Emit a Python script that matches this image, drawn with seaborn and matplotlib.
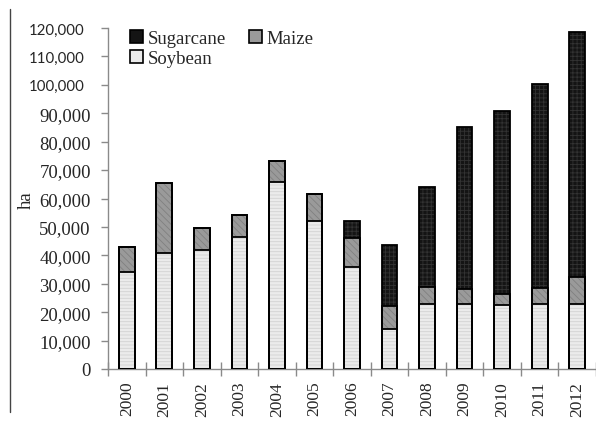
import numpy as np
import pandas as pd
import seaborn as sns
import matplotlib.pyplot as plt
from matplotlib.patches import Patch, Rectangle
from matplotlib.lines import Line2D
from matplotlib.ticker import FuncFormatter
from matplotlib.font_manager import FontProperties
from matplotlib.transforms import ScaledTranslation

# ─────────────────────────────────────────
# 1. DATA (ha)
# ─────────────────────────────────────────
years     = ["2000", "2001", "2002", "2003", "2004", "2005", "2006",
             "2007", "2008", "2009", "2010", "2011", "2012"]
soybean   = [34000, 40800, 42000, 46500, 65900, 52000, 36000,
             14000, 22900, 22900, 22500, 22900, 22900]
maize     = [9000, 24700, 7500, 7800, 7400, 9600, 10000,
             8300, 5900, 5100, 3800, 5700, 9500]
sugarcane = [0, 0, 0, 0, 0, 0, 6000,
             21300, 35300, 57000, 64600, 71700, 86100]
yticks    = list(range(0, 120001, 10000))

df = pd.DataFrame({"year": years, "Soybean": soybean,
                   "Maize": maize, "Sugarcane": sugarcane})
df["lvl_soy"]   = df["Soybean"]
df["lvl_maize"] = df["Soybean"] + df["Maize"]
df["lvl_sugar"] = df["lvl_maize"] + df["Sugarcane"]

# ─────────────────────────────────────────
# 2. STYLE
# ─────────────────────────────────────────
sns.set_style("white")
plt.rcParams["font.family"] = ["Liberation Serif", "DejaVu Serif"]
plt.rcParams["hatch.linewidth"] = 0.6

styles = {
    "Sugarcane": dict(fc="#141414", hc="#333333", hatch="++++"),
    "Maize":     dict(fc="#9a9a9a", hc="#808080", hatch="\\\\\\\\\\"),
    "Soybean":   dict(fc="#ebebeb", hc="#d2d2d2", hatch="-----"),
}

fig = plt.figure(figsize=(5.96, 4.27), dpi=100)
ax = fig.add_axes([108/596, 1 - 370/427, 1 - 108/596, (370 - 29)/427])

# ─────────────────────────────────────────
# 3. STACKED BARS (back to front)
# ─────────────────────────────────────────
BAR_W = 0.42
for name, col in [("Sugarcane", "lvl_sugar"), ("Maize", "lvl_maize"), ("Soybean", "lvl_soy")]:
    st = styles[name]
    n_before = len(ax.patches)
    sns.barplot(data=df, x="year", y=col, order=years, color=st["fc"],
                width=BAR_W, saturation=1, ax=ax, linewidth=0, edgecolor=st["hc"])
    for p in ax.patches[n_before:]:
        p.set_hatch(st["hatch"])

# black outlines on top of everything
for p in list(ax.patches):
    ax.add_patch(Rectangle(p.get_xy(), p.get_width(), p.get_height(),
                           fill=False, ec="black", lw=1.3, zorder=3))

# ─────────────────────────────────────────
# 4. AXES
# ─────────────────────────────────────────
ax.set_xlim(-0.5, 12.26)
ax.set_ylim(0, 120000)
ax.set_yticks(yticks)
ax.yaxis.set_major_formatter(FuncFormatter(lambda v, _: f"{int(v):,}"))
ax.set_xlabel("")
ax.set_ylabel("ha", fontsize=13.5)
ax.yaxis.set_label_coords(35/596, 1 - 200/427, transform=fig.transFigure)
ax.set_xticks(np.arange(-0.5, 13, 1), minor=True)
ax.tick_params(axis="x", which="major", length=0, labelsize=12.5,
               labelrotation=90, pad=8.5)
ax.tick_params(axis="x", which="minor", bottom=True, direction="inout",
               length=10, color="#8a8a8a", width=1)
ax.tick_params(axis="y", which="major", left=True, direction="out", length=5,
               color="#8a8a8a", width=1, labelsize=13.5, pad=7.4)
for s in ["top", "right"]:
    ax.spines[s].set_visible(False)
for s in ["left", "bottom"]:
    ax.spines[s].set_color("#8a8a8a")
    ax.spines[s].set_linewidth(1)

# top three tick labels are in a sans face in the original, set a bit further left
fig.canvas.draw()
shift = ScaledTranslation(-6/100, 0, fig.dpi_scale_trans)
for lab in ax.get_yticklabels():
    if lab.get_text() in ("100,000", "110,000", "120,000"):
        lab.set_fontproperties(FontProperties(family="Lato", size=10.8))
        lab.set_transform(lab.get_transform() + shift)

# ─────────────────────────────────────────
# 5. LEGEND
# ─────────────────────────────────────────
handles = [Patch(facecolor=styles[n]["fc"], edgecolor="black", lw=1.2, label=n)
           for n in ["Sugarcane", "Soybean", "Maize"]]
leg = ax.legend(handles=handles, ncol=2, frameon=False, fontsize=13.5,
                loc="upper left", bbox_to_anchor=(130/596, 1 - 31/427),
                bbox_transform=fig.transFigure, handlelength=0.7, handleheight=0.7,
                handletextpad=0.25, columnspacing=1.2, labelspacing=0.15,
                borderpad=0, borderaxespad=0)
for t in leg.get_texts():
    t.set_fontproperties(FontProperties(family="Liberation Serif", size=13.5))

# left frame line of the original figure
fig.add_artist(Line2D([10/596, 10/596], [1 - 10/427, 1 - 413/427],
                      color="#444444", lw=1))

plt.savefig("out.png", dpi=100)
